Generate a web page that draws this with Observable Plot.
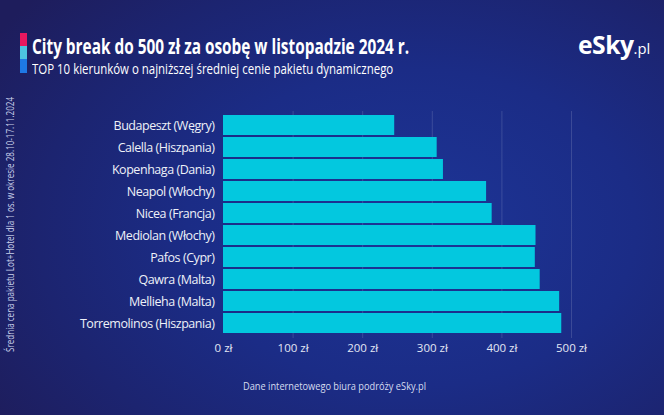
<!DOCTYPE html>
<html>
<head>
<meta charset="utf-8">
<script src="https://cdn.jsdelivr.net/npm/d3@7"></script>
<script src="https://cdn.jsdelivr.net/npm/@observablehq/plot@0.6"></script>
<style>
  html, body { margin: 0; padding: 0; }
  body { width: 664px; height: 415px; overflow: hidden; font-family: "Open Sans", "Noto Sans", sans-serif; }
  #wrap { position: relative; width: 664px; height: 415px; overflow: hidden;
    background: radial-gradient(ellipse 75% 85% at 62% 55%, #1d3597 0%, #1b2c86 45%, #1c2470 75%, #1e1d5c 100%); }
  .abs { position: absolute; white-space: nowrap; transform-origin: 0 0; }
  #title { left: 32px; top: 35px; font-size: 22px; font-weight: 700; color: #ffffff; line-height: 20px; }
  #subtitle { left: 32px; top: 61px; font-size: 15px; font-weight: 400; color: #ffffff; line-height: 15px; }
  #caption { left: 243px; top: 379px; font-size: 10.5px; color: #d6dcef; line-height: 14px; }
  #side { left: 4px; top: 352px; font-size: 10px; color: #c9d0ea; line-height: 12px; transform: rotate(-90deg); transform-origin: 0 0; }
  #logo { left: 578px; top: 30px; font-size: 25px; font-weight: 700; color: #ffffff; line-height: 28px; letter-spacing: -0.5px; }
  #logo .pl { font-size: 15px; font-weight: 400; letter-spacing: 0; }
  #chart { position: absolute; left: 0; top: 100px; }
  .stripe { position: absolute; left: 20px; width: 7px; }
</style>
</head>
<body>
<div id="wrap">
  <div class="stripe" style="top:33px;height:13px;background:#e8185f"></div>
  <div class="stripe" style="top:46px;height:13px;background:#4cc3e0"></div>
  <div class="stripe" style="top:59px;height:14px;background:#1e78e6"></div>
  <div id="title" class="abs">City break do 500 zł za osobę w listopadzie 2024 r.</div>
  <div id="subtitle" class="abs">TOP 10 kierunków o najniższej średniej cenie pakietu dynamicznego</div>
  <div id="logo" class="abs">eSky<span class="pl">.pl</span></div>
  <div id="side" class="abs">Średnia cena pakietu Lot+Hotel dla 1 os. w okresie 28.10-17.11.2024</div>
  <div id="chart"></div>
  <div id="caption" class="abs">Dane internetowego biura podróży eSky.pl</div>
</div>
<script>
const destinations = [
  "Budapeszt (Węgry)",
  "Calella (Hiszpania)",
  "Kopenhaga (Dania)",
  "Neapol (Włochy)",
  "Nicea (Francja)",
  "Mediolan (Włochy)",
  "Pafos (Cypr)",
  "Qawra (Malta)",
  "Mellieha (Malta)",
  "Torremolinos (Hiszpania)"
];
const prices = [246, 307, 316, 378, 386, 449, 448, 455, 483, 486];
const xTicks = [0, 100, 200, 300, 400, 500];

const data = destinations.map((d, i) => ({destination: d, price: prices[i]}));

const chart = Plot.plot({
  width: 664,
  height: 270,
  marginLeft: 223,
  marginRight: 93,
  marginTop: 11,
  marginBottom: 32,
  style: {background: "transparent", fontFamily: "'Open Sans', sans-serif", overflow: "visible"},
  x: {domain: [0, 500], ticks: xTicks, tickFormat: d => `${d} zł`, label: null},
  y: {domain: destinations, padding: 0.09, label: null},
  marks: [
    Plot.gridX(xTicks.slice(1), {stroke: "#ffffff", strokeOpacity: 0.14, strokeWidth: 1}),
    Plot.barX(data, {y: "destination", x: "price", fill: "#03c8df"}),
    Plot.axisX({ticks: xTicks, tickFormat: d => `${d} zł`, tickSize: 0, tickPadding: 5, fontSize: 11.5, fill: "#e3e7f4", label: null}),
    Plot.axisY({tickSize: 0, tickPadding: 9, fontSize: 12.5, fill: "#eef1f8", label: null})
  ]
});
document.getElementById("chart").appendChild(chart);
chart.querySelectorAll('g[aria-label="y-axis tick label"] text').forEach(t => {
  t.style.letterSpacing = "-0.45px";
});

function fit(id, target, prefix) {
  const el = document.getElementById(id);
  const sx = target / el.scrollWidth;
  el.style.transform = (prefix || "") + ` scaleX(${sx})`;
}
fit("title", 377);
fit("subtitle", 361);
fit("caption", 183);
fit("side", 255, "rotate(-90deg)");
fit("logo", 72);
</script>
</body>
</html>
